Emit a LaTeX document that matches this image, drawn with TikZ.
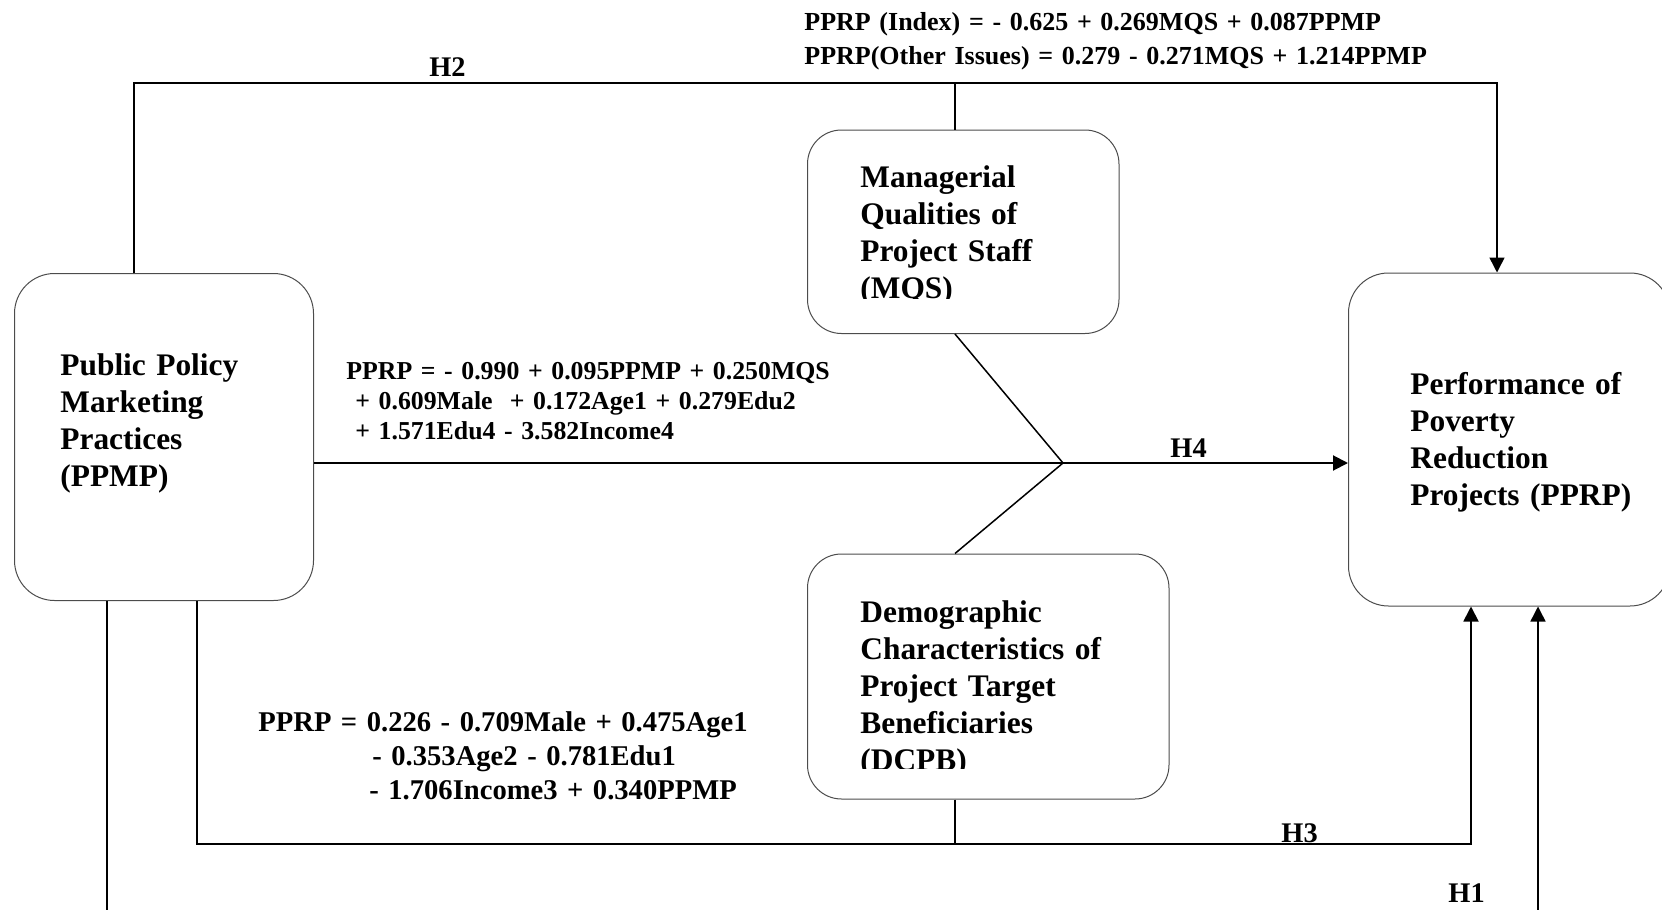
\documentclass[tikz,border=0pt]{standalone}
\usepackage{fontspec}
\setmainfont{Liberation Serif}
\usepackage{tikz}
\usetikzlibrary{arrows.meta}
\tikzstyle{bigBox} = [rectangle, rounded corners=20pt, draw=black!70, line width=0.5pt, inner sep=0pt]
\tikzstyle{smallBox} = [rectangle, rounded corners=17pt, draw=black!70, line width=0.5pt, inner sep=0pt]
\tikzstyle{boxText} = [anchor=base west, inner sep=0pt, text width=160pt, align=left, font=\fontsize{15.7}{18.5}\selectfont\bfseries]
\tikzstyle{eqText} = [anchor=base west, inner sep=0pt, text width=330pt, align=left, font=\fontsize{13}{17}\selectfont\bfseries]
\tikzstyle{hypText} = [anchor=base west, inner sep=0pt, font=\fontsize{14.2}{16}\selectfont\bfseries]
\tikzstyle{link} = [line width=0.75pt]
\tikzstyle{arrow} = [line width=0.75pt, -{Triangle[length=7.5pt,width=7.5pt]}]

\begin{document}
\begin{tikzpicture}[x=0.5pt, y=-0.5pt]
    \useasboundingbox (0,0) rectangle (1662,910);
    % Boxes
    \node (ppmp) [bigBox, minimum width=149.5pt, minimum height=163.5pt] at (164,437) {};
    \node (mqs) [smallBox, minimum width=155.75pt, minimum height=101.75pt] at (963.25,231.75) {};
    \node (dcpb) [smallBox, minimum width=180.75pt, minimum height=122.5pt] at (988.25,676.5) {};
    \node (pprp) [bigBox, minimum width=160.75pt, minimum height=166.5pt] at (1509.25,439.5) {};
    % Box texts
    \node (ppmpText) [boxText] at (60,375) {Public Policy\\Marketing\\Practices\\(PPMP)};
    \begin{scope}
        \clip (mqs.north west) rectangle (1130,298);
        \node (mqsText) [boxText] at (860,187) {Managerial\\Qualities of\\Project Staff\\(MQS)};
    \end{scope}
    \begin{scope}
        \clip (dcpb.north west) rectangle (1170,768);
        \node (dcpbText) [boxText] at (860,622) {Demographic\\Characteristics of\\Project Target\\Beneficiaries\\(DCPB)};
    \end{scope}
    \node (pprpText) [boxText] at (1410,394) {Performance of\\Poverty\\Reduction\\Projects (PPRP)};
    % Equations
    \node (topEq) [eqText] at (804,31) {PPRP (Index) = - 0.625 + 0.269MQS + 0.087PPMP\\PPRP(Other Issues) = 0.279 - 0.271MQS + 1.214PPMP};
    \node (midEq) [eqText, font=\fontsize{12.9}{15.2}\selectfont\bfseries] at (346,379) {PPRP = - 0.990 + 0.095PPMP + 0.250MQS\\\hspace*{4.5pt}+ 0.609Male \ + 0.172Age1 + 0.279Edu2\\\hspace*{4.5pt}+ 1.571Edu4 - 3.582Income4};
    \node (botEq) [eqText, font=\fontsize{14.3}{17.2}\selectfont\bfseries] at (258,731) {PPRP = 0.226 - 0.709Male + 0.475Age1\\\hspace*{57pt}- 0.353Age2 - 0.781Edu1\\\hspace*{55.5pt}- 1.706Income3 + 0.340PPMP};
    % Hypotheses
    \node (h2Label) [hypText] at (429,76) {H2};
    \node (h4Label) [hypText] at (1170,457) {H4};
    \node (h3Label) [hypText] at (1281,842) {H3};
    \node (h1Label) [hypText] at (1448,902) {H1};
    % Corner points
    \coordinate (meet) at (1063,463);
    \coordinate (midX) at (955,0);
    \coordinate (h2L) at (134,83);
    \coordinate (h2R) at (1497,83);
    \coordinate (h3L) at (197,844);
    \coordinate (h3R) at (1471,844);
    \coordinate (h1L) at (107,910);
    \coordinate (h1R) at (1538,910);

    % H2
    \draw [arrow] (ppmp.north -| h2L) -- (h2L) -- (h2R) -- (pprp.north -| h2R);
    \draw [link] (mqs.north -| midX) -- (h2L -| midX);
    % H4
    \draw [arrow, line width=1pt] (ppmp.east |- meet) -- (pprp.west |- meet);
    \draw [link] (mqs.south -| midX) -- (meet);
    \draw [link] (dcpb.north -| midX) -- (meet);
    % H3
    \draw [arrow, line width=0.9pt] (ppmp.south -| h3L) -- (h3L) -- (h3R) -- (pprp.south -| h3R);
    \draw [link] (dcpb.south -| midX) -- (h3L -| midX);
    % H1
    \draw [link] (ppmp.south -| h1L) -- (h1L);
    \draw [arrow] (h1R) -- (pprp.south -| h1R);
\end{tikzpicture}
\end{document}
